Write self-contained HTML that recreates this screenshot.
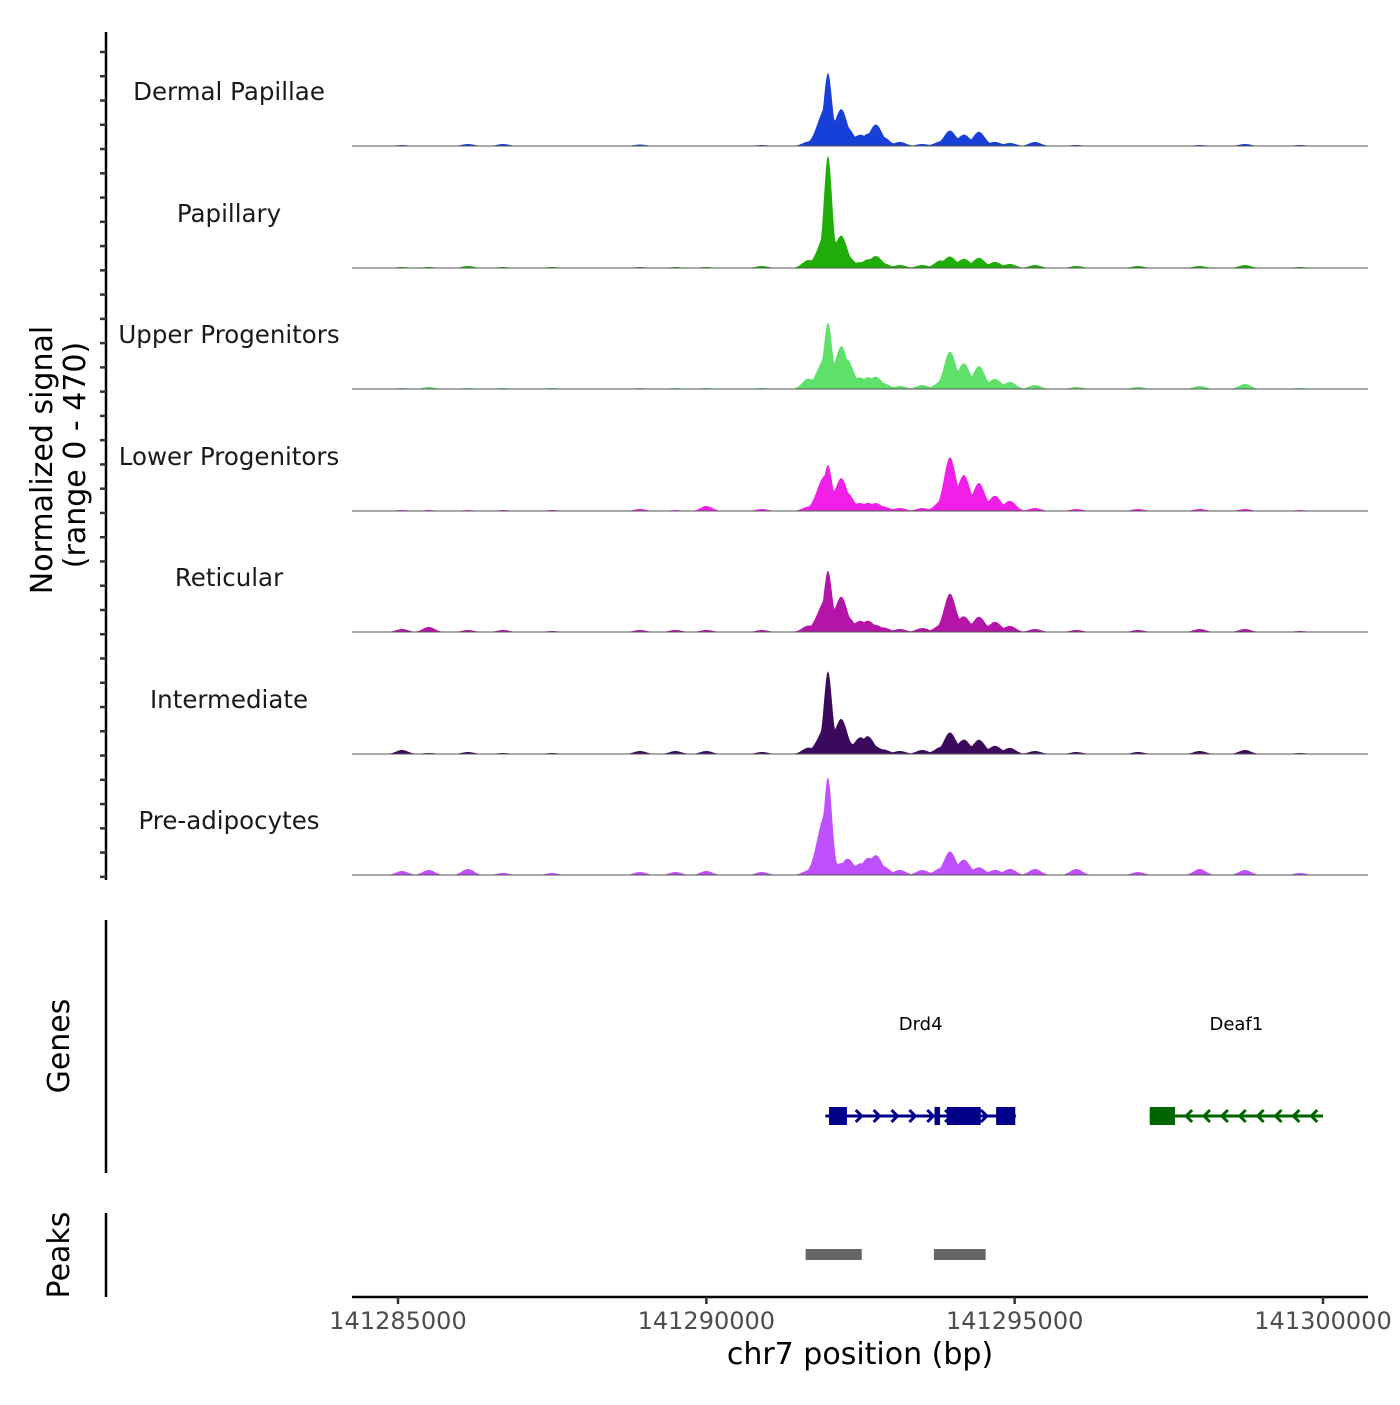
<!DOCTYPE html>
<html><head><meta charset="utf-8"><style>
body{margin:0;background:#fff}
svg text{font-family:"DejaVu Sans","Liberation Sans",sans-serif}
</style></head><body>
<svg id="chart" width="1400" height="1400" viewBox="0 0 1400 1400" xmlns="http://www.w3.org/2000/svg">
<rect width="1400" height="1400" fill="#fff"/>
<g id="tracks"></g>
<g id="yaxis"></g>
<text transform="translate(52,460) rotate(-90)" text-anchor="middle" font-size="30">Normalized signal</text>
<text transform="translate(85,455) rotate(-90)" text-anchor="middle" font-size="30">(range 0 - 470)</text>
<line x1="106" y1="920" x2="106" y2="1173" stroke="#000" stroke-width="2.5"/>
<text transform="translate(69,1046) rotate(-90)" text-anchor="middle" font-size="30">Genes</text>
<line x1="106" y1="1213" x2="106" y2="1297" stroke="#000" stroke-width="2.5"/>
<text transform="translate(69,1255) rotate(-90)" text-anchor="middle" font-size="30">Peaks</text>
<g id="genes"></g>
<g id="peaks"></g>
<g id="xaxis"></g>
<text x="860" y="1364" text-anchor="middle" font-size="30">chr7 position (bp)</text>
</svg>
<script>
const xTicks = [141285000, 141290000, 141295000, 141300000];
const trackNames = ["Dermal Papillae","Papillary","Upper Progenitors","Lower Progenitors","Reticular","Intermediate","Pre-adipocytes"];
const trackColors = ["#1740d8","#1fae08","#5ee06a","#f020e8","#b414a8","#3c0a5c","#be50ff"];
const bumpCenters = [141285065,141285500,141286135,141286700,141287500,141288924,141289500,141290000,141290900,141291649,141291892,141291973,141292184,141292297,141292492,141292622,141292751,141292881,141293140,141293500,141293789,141293951,141294178,141294422,141294681,141294924,141295330,141296000,141297000,141298000,141298735,141299627];
const sigDermal = [4,0,8,8,0,6,0,0,4,16,120,270,140,60,40,40,80,30,16,8,16,60,44,56,16,12,16,4,0,4,8,4];
const sigPapillary = [4,4,8,4,4,4,4,4,8,30,100,430,124,40,20,30,44,16,12,12,28,44,36,40,24,16,12,8,8,8,12,4];
const sigUpper = [4,8,4,4,4,4,4,4,4,40,100,247,160,100,40,40,44,20,12,16,24,147,100,90,40,28,16,8,8,12,20,4];
const sigLower = [4,4,4,4,4,8,4,20,8,16,120,163,124,60,28,28,28,16,12,12,32,211,140,110,60,40,12,8,8,8,8,4];
const sigReticular = [12,20,8,8,4,8,8,8,8,24,100,227,135,50,40,40,24,16,12,16,24,151,60,60,40,24,12,8,8,12,12,4];
const sigIntermediate = [16,4,8,4,4,12,12,12,8,24,80,315,135,40,60,64,24,16,12,16,24,84,56,56,32,24,12,8,8,12,16,4];
const sigPreadipo = [16,20,24,8,8,12,12,16,12,16,200,358,40,60,40,60,72,30,20,20,24,92,60,30,20,24,24,24,12,24,20,8];
const trackSignals = [sigDermal,sigPapillary,sigUpper,sigLower,sigReticular,sigIntermediate,sigPreadipo];
const signalMax = 470;
const geneNames = ["Drd4","Deaf1"];
const geneStarts = [141291930,141297190];
const geneEnds = [141295020,141300000];
const geneStrands = [1,-1];
const geneColors = ["#00008b","#006400"];
const exonStarts = [[141291990,141293700,141293900,141294700],[141297190]];
const exonEnds = [[141292280,141293790,141294450,141295010],[141297600]];
const peakStarts = [141291610,141293690];
const peakEnds = [141292520,141294530];

const NS="http://www.w3.org/2000/svg";
const X0=352, X1=1368;
const xs = bp => 398 + (bp-141285000)*(1323-398)/15000;
function mk(tag,attrs,parent){const e=document.createElementNS(NS,tag);for(const k in attrs)e.setAttribute(k,attrs[k]);parent.appendChild(e);return e;}
const tracks=document.getElementById('tracks');
const baseY=[146,268,389,511,632,754,875];
const trackH=118;
trackSignals.forEach((sig,t)=>{
  const g=mk('g',{},tracks);
  
  
  const yb=baseY[t];
  let d='M'+X0+','+yb;
  for(let px=X0;px<=X1;px+=1){
    const bp=141285000+(px-398)*15000/(1323-398);
    let v=0, sum=0;
    for(let i=0;i<bumpCenters.length;i++){
      const s = (i===11)?65:(i===10?110:95);
      const z=(bp-bumpCenters[i])/s;
      const b=sig[i]*Math.exp(-0.5*z*z);
      v=Math.max(v,b); sum+=b;
    }
    v = v + (sum-v)*0.2;
    d+=' L'+px+','+(yb - v/signalMax*trackH).toFixed(1);
  }
  d+=' L'+X1+','+yb+' Z';
  const a=mk('path',{d:d,fill:trackColors[t],stroke:'none'},g);
  
  
  const l=mk('line',{x1:X0,x2:X1,y1:yb,y2:yb,stroke:'#555','stroke-width':1},g);
  
  
  const tx=mk('text',{x:229,y:yb-46,'text-anchor':'middle','font-size':24.5,fill:'#1a1a1a'},g);
  tx.textContent=trackNames[t];
  
  
});
const ya=document.getElementById('yaxis');
mk('line',{x1:106,y1:32,x2:106,y2:880,stroke:'#000','stroke-width':2.5},ya);
for(let i=0;i<35;i++){const y=52+i*24.26;mk('line',{x1:100,x2:106,y1:y,y2:y,stroke:'#333','stroke-width':2.5},ya);}
const gg=document.getElementById('genes');
geneNames.forEach((n,i)=>{
  const g=mk('g',{},gg);
  
  
  const c=geneColors[i], y=1116;
  const x1=xs(geneStarts[i]), x2=xs(geneEnds[i]);
  mk('line',{x1:x1,x2:x2,y1:y,y2:y,stroke:c,'stroke-width':3},g);
  for(let bp=geneStarts[i]+300;bp<geneEnds[i]-100;bp+=290){
    const x=xs(bp), dd=6*geneStrands[i];
    mk('polyline',{points:(x-dd)+','+(y-6)+' '+x+','+y+' '+(x-dd)+','+(y+6),fill:'none',stroke:c,'stroke-width':3},g);
  }
  exonStarts[i].forEach((s,j)=>{
    const e=mk('rect',{x:xs(s),y:y-9,width:xs(exonEnds[i][j])-xs(s),height:18,fill:c},g);
    
    
  });
  const t=mk('text',{x:(x1+x2)/2,y:1030,'text-anchor':'middle','font-size':18},g);
  t.textContent=n;
  
  
});
const pg=document.getElementById('peaks');
peakStarts.forEach((s,i)=>{
  const r=mk('rect',{x:xs(s),y:1249,width:xs(peakEnds[i])-xs(s),height:11,fill:'#666'},pg);
  
  
});
const xa=document.getElementById('xaxis');
mk('line',{x1:X0,x2:X1,y1:1297,y2:1297,stroke:'#000','stroke-width':2.5},xa);
xTicks.forEach(v=>{
  const x=xs(v);
  mk('line',{x1:x,x2:x,y1:1297,y2:1304,stroke:'#333','stroke-width':2.5},xa);
  const t=mk('text',{x:x,y:1329,'text-anchor':'middle','font-size':24,fill:'#4d4d4d'},xa);
  t.textContent=v;
  
  
});
</script>
</body></html>
